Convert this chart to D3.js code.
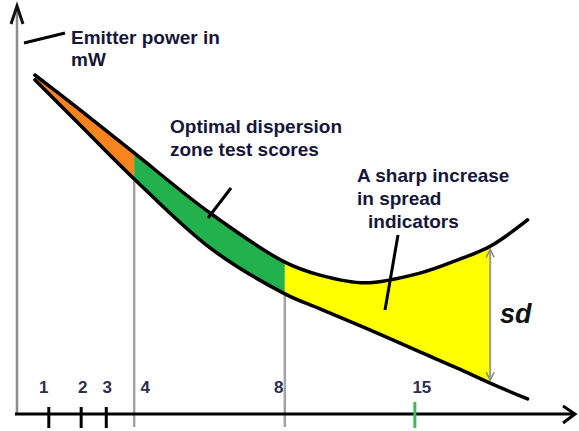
<!DOCTYPE html>
<html>
<head>
<meta charset="utf-8">
<script src="https://cdn.jsdelivr.net/npm/d3@7"></script>
<style>
    body { margin: 0; background: #fff; }
    svg { display: block; font-family: 'Liberation Sans', Arial, sans-serif; }
    .note { font-size: 19px; font-weight: bold; fill: #16163a; }
    .tick-label { font-size: 17px; font-weight: bold; fill: #2e2e4e; text-anchor: middle; }
</style>
</head>
<body>
<div id="chart"></div>
<script>
// schematic curves: horizontal position in axis units (0..100), emitter power in units (0..100)
var xPos  = [3.2, 11.3, 21.0, 34.6, 48.0, 54.3, 62.4, 72.2, 78.9, 84.8, 91.5];
var upper = [83.5, 74.9, 64.3, 49.5, 37.4, 34.2, 32.3, 34.7, 37.9, 41.3, 47.8];
var lower = [82.3, 71.2, 57.9, 40.9, 29.6, 25.9, 21.2, 15.3, 11.3, 7.6, 3.7];

// zones between the curves
var zoneEdges  = [3.2, 21.0, 48.0, 84.8];
var zoneColors = ['#f7841f', '#22b14c', '#ffff00'];

// axis ticks
var tickLabels = ['1', '2', '3', '4', '8', '15'];
var tickPos    = [5.7, 11.5, 16.0, 21.0, 48.0, 71.3];

var WIDTH  = 579,
    HEIGHT = 431;

var x = d3.scaleLinear().domain([0, 100]).range([17, 575]);
var y = d3.scaleLinear().domain([0, 100]).range([414, 8]);

var svg = d3.select('#chart')
            .append('svg')
            .attr('width', WIDTH)
            .attr('height', HEIGHT);

var idx = d3.range(xPos.length);

var area = d3.area()
             .x(function(i) { return x(xPos[i]); })
             .y0(function(i) { return y(lower[i]); })
             .y1(function(i) { return y(upper[i]); })
             .curve(d3.curveCatmullRom.alpha(0.5));

var lineOf = function(series) {
    return d3.line()
             .x(function(i) { return x(xPos[i]); })
             .y(function(i) { return y(series[i]); })
             .curve(d3.curveCatmullRom.alpha(0.5));
};

// clip rects for each coloured zone
var defs = svg.append('defs');
zoneColors.forEach(function(c, k) {
    defs.append('clipPath')
        .attr('id', 'zone' + k)
        .append('rect')
        .attr('x', x(zoneEdges[k]))
        .attr('y', 0)
        .attr('width', x(zoneEdges[k + 1]) - x(zoneEdges[k]))
        .attr('height', HEIGHT);
});

// fill each zone
svg.selectAll('path.zone')
    .data(zoneColors)
    .enter()
    .append('path')
    .attr('class', 'zone')
    .attr('d', area(idx))
    .attr('fill', function(d) { return d; })
    .attr('clip-path', function(d, k) { return 'url(#zone' + k + ')'; });

// grey zone boundaries, from the lower curve down past the axis
svg.selectAll('line.edge')
    .data([1, 2])
    .enter()
    .append('line')
    .attr('class', 'edge')
    .attr('x1', function(k) { return x(zoneEdges[k]); })
    .attr('x2', function(k) { return x(zoneEdges[k]); })
    .attr('y1', function(k) { return y(lower[xPos.indexOf(zoneEdges[k])]) + 2; })
    .attr('y2', 427)
    .attr('stroke', '#a3a3a3')
    .attr('stroke-width', 2.5);

// sd arrow at the end of the yellow zone
var sdIdx = xPos.indexOf(zoneEdges[3]);
var sdX   = x(zoneEdges[3]);
var sdTop = y(upper[sdIdx]) + 3,
    sdBot = y(lower[sdIdx]) - 3;
svg.append('line')
    .attr('x1', sdX).attr('x2', sdX)
    .attr('y1', sdTop).attr('y2', sdBot)
    .attr('stroke', '#9a9a9a')
    .attr('stroke-width', 2);
svg.append('path')
    .attr('d', 'M' + (sdX - 4) + ',' + (sdTop + 8) + 'L' + sdX + ',' + sdTop + 'L' + (sdX + 4) + ',' + (sdTop + 8) +
               'M' + (sdX - 4) + ',' + (sdBot - 8) + 'L' + sdX + ',' + sdBot + 'L' + (sdX + 4) + ',' + (sdBot - 8))
    .attr('fill', 'none')
    .attr('stroke', '#8a8a8a')
    .attr('stroke-width', 1.5);

// the two curves
svg.selectAll('path.curve')
    .data([upper, lower])
    .enter()
    .append('path')
    .attr('class', 'curve')
    .attr('d', function(s) { return lineOf(s)(idx); })
    .attr('fill', 'none')
    .attr('stroke', '#000')
    .attr('stroke-width', 3.5)
    .attr('stroke-linecap', 'round');

// y axis (grey) with arrowhead
svg.append('line')
    .attr('x1', x(0)).attr('x2', x(0))
    .attr('y1', y(0)).attr('y2', 8)
    .attr('stroke', '#8c8c8c')
    .attr('stroke-width', 2.5);
svg.append('path')
    .attr('d', 'M' + (x(0) - 6) + ',24L' + x(0) + ',6L' + (x(0) + 6) + ',24')
    .attr('fill', 'none')
    .attr('stroke', '#111')
    .attr('stroke-width', 3);

// x axis with arrowhead
svg.append('line')
    .attr('x1', 15).attr('x2', 574)
    .attr('y1', y(0)).attr('y2', y(0))
    .attr('stroke', '#000')
    .attr('stroke-width', 3);
svg.append('path')
    .attr('d', 'M563,' + (y(0) - 8) + 'L575,' + y(0) + 'L563,' + (y(0) + 9))
    .attr('fill', 'none')
    .attr('stroke', '#000')
    .attr('stroke-width', 3);

// tick marks: black for 1-3, green for 15 (4 and 8 are the zone edges)
var tickData = tickLabels.map(function(l, i) { return { label : l, pos : tickPos[i] }; });
svg.selectAll('line.tick')
    .data(tickData.filter(function(d) { return zoneEdges.indexOf(d.pos) < 0; }))
    .enter()
    .append('line')
    .attr('class', 'tick')
    .attr('x1', function(d) { return x(d.pos); })
    .attr('x2', function(d) { return x(d.pos); })
    .attr('y1', function(d) { return d.label === '15' ? 402 : 407; })
    .attr('y2', 428)
    .attr('stroke', function(d) { return d.label === '15' ? '#3cba5c' : '#000'; })
    .attr('stroke-width', 3);

// tick labels, nudged off the lines
var nudge = { '1' : -5, '2' : 1.5, '3' : 1, '4' : 11, '8' : -6, '15' : 7 };
svg.selectAll('text.tick-label')
    .data(tickData)
    .enter()
    .append('text')
    .attr('class', 'tick-label')
    .attr('x', function(d) { return x(d.pos) + nudge[d.label]; })
    .attr('y', 393)
    .text(function(d) { return d.label; });

// callout pointers
svg.selectAll('line.pointer')
    .data([
        { x1 : 24,  y1 : 43,  x2 : 65,  y2 : 33  }, // emitter power
        { x1 : 231, y1 : 188, x2 : 208, y2 : 218 }, // optimal zone
        { x1 : 398, y1 : 235, x2 : 385, y2 : 310 }  // sharp increase
    ])
    .enter()
    .append('line')
    .attr('class', 'pointer')
    .attr('x1', function(d) { return d.x1; })
    .attr('y1', function(d) { return d.y1; })
    .attr('x2', function(d) { return d.x2; })
    .attr('y2', function(d) { return d.y2; })
    .attr('stroke', '#000')
    .attr('stroke-width', 3);

// annotation text
svg.selectAll('text.note')
    .data([
        { t : 'Emitter power in',   x : 71,  y : 44  },
        { t : 'mW',                 x : 71,  y : 66  },
        { t : 'Optimal dispersion', x : 170, y : 133 },
        { t : 'zone test scores',   x : 170, y : 156 },
        { t : 'A sharp increase',   x : 357, y : 182 },
        { t : 'in spread',          x : 357, y : 205 },
        { t : 'indicators',         x : 368, y : 228 }
    ])
    .enter()
    .append('text')
    .attr('class', 'note')
    .attr('x', function(d) { return d.x; })
    .attr('y', function(d) { return d.y; })
    .text(function(d) { return d.t; });

svg.append('text')
    .attr('x', 500)
    .attr('y', 323)
    .attr('font-size', 27)
    .attr('font-weight', 'bold')
    .attr('font-style', 'italic')
    .attr('fill', '#111')
    .text('sd');
</script>
</body>
</html>
